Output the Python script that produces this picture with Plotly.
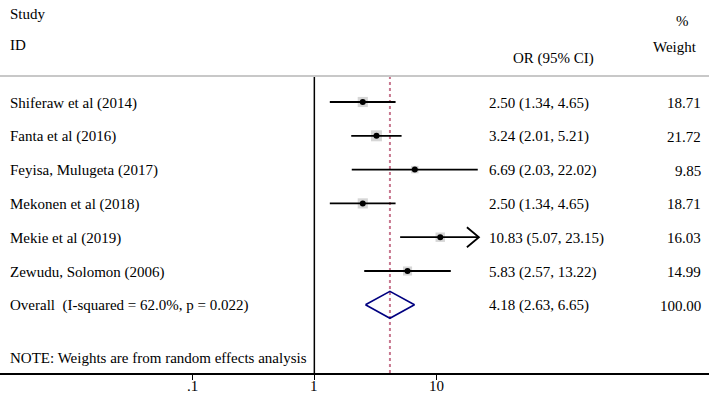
import math
import plotly.graph_objects as go

# ---------------- data ----------------
studies = ["Shiferaw et al (2014)", "Fanta et al (2016)", "Feyisa, Mulugeta (2017)",
           "Mekonen et al (2018)", "Mekie et al (2019)", "Zewudu, Solomon (2006)"]
or_est = [2.50, 3.24, 6.69, 2.50, 10.83, 5.83]
ci_low = [1.34, 2.01, 2.03, 1.34, 5.07, 2.57]
ci_high = [4.65, 5.21, 22.02, 4.65, 23.15, 13.22]
weights = [18.71, 21.72, 9.85, 18.71, 16.03, 14.99]
overall_est = 4.18
overall_low = 2.63
overall_high = 6.65
overall_weight = 100.00
overall_label = "Overall\u00a0\u00a0(I-squared = 62.0%, p = 0.022)"
note_text = "NOTE: Weights are from random effects analysis"
tick_vals = [0.1, 1, 10]
tick_text = [".1", "1", "10"]

# ---------------- layout constants ----------------
W, H = 709, 397
axis_y = 373          # pixel y of x-axis line
top_y = 76            # pixel y of top separator
row0, row_step = 102, 33.8
x_range = [-2.583, 3.243]   # log10 range across the full width
clip_hi = 22.5               # display limit for CI lines
FONT = "Liberation Serif, Times New Roman, serif"
FS = 15

rows = [row0 + row_step * i for i in range(len(studies))]
row_overall = row0 + row_step * len(studies)

fig = go.Figure()

# reference dotted line at overall estimate
fig.add_trace(go.Scatter(x=[overall_est, overall_est], y=[top_y, axis_y], mode="lines",
                         line=dict(color="#c87890", width=2, dash="dot"), hoverinfo="skip"))
# null line
fig.add_trace(go.Scatter(x=[1, 1], y=[top_y, axis_y], mode="lines",
                         line=dict(color="black", width=1.5), hoverinfo="skip"))

# weight squares
fig.add_trace(go.Scatter(x=or_est, y=rows, mode="markers",
                         marker=dict(symbol="square", color="#c4c4c4",
                                     size=[2.35 * math.sqrt(w) for w in weights],
                                     line=dict(width=0)), hoverinfo="skip"))

# CI lines
lx, ly = [], []
ax, ay = [], []
arrow_dx = 10 ** (12 / 121.7)
for lo, hi, r in zip(ci_low, ci_high, rows):
    end = min(hi, clip_hi)
    lx += [lo, end, None]
    ly += [r, r, None]
    if hi > clip_hi:
        ax += [end / arrow_dx, end, end / arrow_dx, None]
        ay += [r - 10, r, r + 10, None]
fig.add_trace(go.Scatter(x=lx, y=ly, mode="lines", line=dict(color="black", width=1.8),
                         hoverinfo="skip"))
fig.add_trace(go.Scatter(x=ax, y=ay, mode="lines", line=dict(color="black", width=1.8),
                         hoverinfo="skip"))

# point estimates
fig.add_trace(go.Scatter(x=or_est, y=rows, mode="markers",
                         marker=dict(symbol="circle", color="black", size=6), hoverinfo="skip"))

# overall diamond
dh = 13.5
fig.add_trace(go.Scatter(x=[overall_low, overall_est, overall_high, overall_est, overall_low],
                         y=[row_overall, row_overall - dh, row_overall, row_overall + dh, row_overall],
                         mode="lines", line=dict(color="#000080", width=1.6), hoverinfo="skip"))

ann = []
def text(x, y, s, anchor="left"):
    ann.append(dict(x=x / W, y=y, xref="paper", yref="y", text=s, showarrow=False,
                    xanchor=anchor, yanchor="middle", font=dict(family=FONT, size=FS, color="black")))

text(8, 14, "Study")
text(8, 45, "ID")
text(682, 21, "%", "center")
text(675, 47, "Weight", "center")
text(511, 58, "OR (95% CI)")
for s, e, lo, hi, w, r in zip(studies, or_est, ci_low, ci_high, weights, rows):
    text(8, r + 1, s)
    text(487, r + 1, f"{e:.2f} ({lo:.2f}, {hi:.2f})")
    text(703, r + 1, f"{w:.2f}", "right")
text(8, row_overall + 1, overall_label)
text(487, row_overall + 1, f"{overall_est:.2f} ({overall_low:.2f}, {overall_high:.2f})")
text(703, row_overall + 1, f"{overall_weight:.2f}", "right")
text(8, 358, note_text)

# tick labels placed just below the axis ticks (paper y below the plot area)
label_px = 386
for tv, tt in zip(tick_vals, tick_text):
    ann.append(dict(x=math.log10(tv), y=-(label_px - axis_y) / axis_y, xref="x", yref="paper",
                    text=tt, showarrow=False, xanchor="center", yanchor="middle",
                    font=dict(family=FONT, size=FS, color="black")))

fig.update_layout(
    width=W, height=H, margin=dict(l=0, r=0, t=0, b=H - axis_y),
    paper_bgcolor="white", plot_bgcolor="white", showlegend=False,
    annotations=ann,
    shapes=[dict(type="line", xref="paper", yref="y", x0=0, x1=1, y0=top_y, y1=top_y,
                 line=dict(color="#c8c8c8", width=2))],
    xaxis=dict(type="log", range=x_range, showgrid=False, zeroline=False,
               showline=True, linecolor="black", linewidth=1.8,
               ticks="outside", ticklen=5, tickwidth=1.2, tickcolor="black",
               tickvals=tick_vals, showticklabels=False, automargin=False),
    yaxis=dict(range=[axis_y, 0], visible=False, showgrid=False, zeroline=False),
)

fig.write_html("out.html", config={"displayModeBar": False},
               post_script="document.body.style.margin='0';document.body.style.overflow='hidden';")
